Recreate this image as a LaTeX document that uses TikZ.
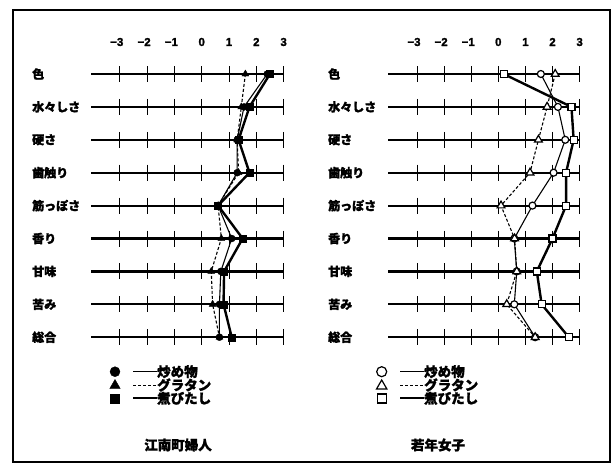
\documentclass[tikz,border=0pt]{standalone}
\usepackage{fontspec}
\usetikzlibrary{shapes.geometric}
\setmainfont{Liberation Sans}[BoldFeatures={FakeBold=1.5}]
\newfontfamily\jp{Noto Sans CJK JP}[BoldFeatures={FakeBold=1.5}]
\begin{document}
\begin{tikzpicture}[x=1pt,y=-1pt,
  rowlab/.style={font=\jp\bfseries\fontsize{12}{14}\selectfont, anchor=west, inner sep=0pt},
  ticklab/.style={font=\bfseries\fontsize{11.5}{12}\selectfont, inner sep=0pt},
  axisline/.style={line width=2.2pt},
  tickmark/.style={line width=1pt},
  thinline/.style={line width=1.1pt},
  dashline/.style={line width=1.1pt, dash pattern=on 3pt off 2pt},
  thickline/.style={line width=2.4pt},
  fcirc/.style={circle, fill=black, draw=black, minimum size=7pt, inner sep=0pt},
  ftri/.style={regular polygon, regular polygon sides=3, fill=black, draw=black, minimum size=8pt, inner sep=0pt},
  fsq/.style={rectangle, fill=black, draw=black, minimum size=7pt, inner sep=0pt},
  ocirc/.style={circle, fill=white, draw=black, line width=1.2pt, minimum size=7pt, inner sep=0pt},
  otri/.style={regular polygon, regular polygon sides=3, fill=white, draw=black, line width=1.2pt, minimum size=9pt, inner sep=0pt},
  osq/.style={rectangle, fill=white, draw=black, line width=1.2pt, minimum size=7pt, inner sep=0pt},
  legtext/.style={font=\jp\bfseries\fontsize{13.5}{15}\selectfont, anchor=west, inner sep=0pt},
  title/.style={font=\jp\bfseries\fontsize{13.5}{15}\selectfont, inner sep=0pt}
]
\useasboundingbox (0,0) rectangle (612,464);
\draw[line width=2pt] (13,10) rectangle (610,462);

% ---- axes, labels, ticks ----
\foreach \lab [count=\i from 0] in {色,水々しさ,硬さ,歯触り,筋っぽさ,香り,甘味,苦み,総合} {
  \pgfmathsetmacro\yy{74+32.9*\i}
  \node[rowlab] (LL\i) at (32,\yy) {\lab};
  \node[rowlab] (RL\i) at (328,\yy) {\lab};
  \coordinate (LA\i) at (91,\yy);
  \coordinate (LB\i) at (283.5,\yy);
  \coordinate (RA\i) at (388,\yy);
  \coordinate (RB\i) at (579.5,\yy);
  \draw[axisline] (LA\i) -- (LB\i);
  \draw[axisline] (RA\i) -- (RB\i);
  \foreach \t in {-3,...,3} {
    \draw[tickmark] ({201.7+27.3*\t},\yy-8) -- ({201.7+27.3*\t},\yy+8);
    \draw[tickmark] ({498.3+27.1*\t},\yy-8) -- ({498.3+27.1*\t},\yy+8);
  }
}
\foreach \t/\s/\o in {-3/−3/3,-2/−2/3,-1/−1/3,0/0/0,1/1/0,2/2/0,3/3/0} {
  \node[ticklab] (LT\t) at ({201.7+27.3*\t-\o},42) {\s};
  \node[ticklab] (RT\t) at ({498.3+27.1*\t-\o},42) {\s};
}

% ---- data coordinates: left (江南町婦人) ----
\foreach \v [count=\i from 0] in {2.4,1.55,1.3,1.3,0.6,1.1,0.7,0.65,0.65}
  \coordinate (Lc\i) at ({201.7+27.3*\v},{74+32.9*\i});
\foreach \v [count=\i from 0] in {1.6,1.45,1.3,1.35,0.6,0.72,0.35,0.4,0.65}
  \coordinate (Lt\i) at ({201.7+27.3*\v},{74+32.9*\i});
\foreach \v [count=\i from 0] in {2.5,1.75,1.35,1.75,0.6,1.5,0.82,0.8,1.1}
  \coordinate (Ls\i) at ({201.7+27.3*\v},{74+32.9*\i});
% ---- right (若年女子) ----
\foreach \v [count=\i from 0] in {1.57,2.2,2.47,2.04,1.26,0.59,0.68,0.59,1.36}
  \coordinate (Rc\i) at ({498.3+27.1*\v},{74+32.9*\i});
\foreach \v [count=\i from 0] in {2.1,1.8,1.48,1.17,0.1,0.6,0.68,0.31,1.36}
  \coordinate (Rt\i) at ({498.3+27.1*\v},{74+32.9*\i});
\foreach \v [count=\i from 0] in {0.2,2.7,2.78,2.5,2.5,2.0,1.42,1.6,2.6}
  \coordinate (Rs\i) at ({498.3+27.1*\v},{74+32.9*\i});

% ---- profile lines ----
\draw[thickline] (Ls0) \foreach \i in {1,...,8} { -- (Ls\i) };
\draw[thinline] (Lc0) \foreach \i in {1,...,8} { -- (Lc\i) };
\draw[dashline] (Lt0) \foreach \i in {1,...,8} { -- (Lt\i) };
\draw[thickline] (Rs0) \foreach \i in {1,...,8} { -- (Rs\i) };
\draw[thinline] (Rc0) \foreach \i in {1,...,8} { -- (Rc\i) };
\draw[dashline] (Rt0) \foreach \i in {1,...,8} { -- (Rt\i) };

% ---- markers ----
\foreach \i in {0,...,8} {
  \node[fsq] (mLs\i) at (Ls\i) {};
  \node[fcirc] (mLc\i) at (Lc\i) {};
  \node[ftri] (mLt\i) at (Lt\i) {};
  \node[osq] (mRs\i) at (Rs\i) {};
  \node[ocirc] (mRc\i) at (Rc\i) {};
  \node[otri] (mRt\i) at (Rt\i) {};
}

% ---- legends ----
\node[fcirc, minimum size=10pt] (lg1) at (115,371.7) {};
\node[ftri, minimum size=12pt] (lg2) at (115,385.5) {};
\node[fsq, minimum size=9pt] (lg3) at (115,398.5) {};
\coordinate (lga1) at (133,371.7); \coordinate (lgb1) at (157,371.7);
\coordinate (lga2) at (133,385); \coordinate (lgb2) at (157,385);
\coordinate (lga3) at (133,398.3); \coordinate (lgb3) at (157,398.3);
\draw[line width=0.8pt] (lga1) -- (lgb1);
\draw[dashline, line width=0.8pt] (lga2) -- (lgb2);
\draw[line width=2pt] (lga3) -- (lgb3);
\node[legtext] (lt1) at (lgb1) {炒め物};
\node[legtext] (lt2) at (lgb2) {グラタン};
\node[legtext] (lt3) at (lgb3) {煮びたし};

\node[ocirc, minimum size=10pt] (rg1) at (381.7,371.7) {};
\node[otri, minimum size=12pt] (rg2) at (381.7,386) {};
\node[osq, minimum size=9pt] (rg3) at (381.7,398.5) {};
\coordinate (rga1) at (400,371.7); \coordinate (rgb1) at (424,371.7);
\coordinate (rga2) at (400,385); \coordinate (rgb2) at (424,385);
\coordinate (rga3) at (400,398.3); \coordinate (rgb3) at (424,398.3);
\draw[line width=0.8pt] (rga1) -- (rgb1);
\draw[dashline, line width=0.8pt] (rga2) -- (rgb2);
\draw[line width=2pt] (rga3) -- (rgb3);
\node[legtext] (rt1) at (rgb1) {炒め物};
\node[legtext] (rt2) at (rgb2) {グラタン};
\node[legtext] (rt3) at (rgb3) {煮びたし};

% ---- titles ----
\node[title] (T1) at (178,445) {江南町婦人};
\node[title] (T2) at (438,445) {若年女子};
\end{tikzpicture}
\end{document}
